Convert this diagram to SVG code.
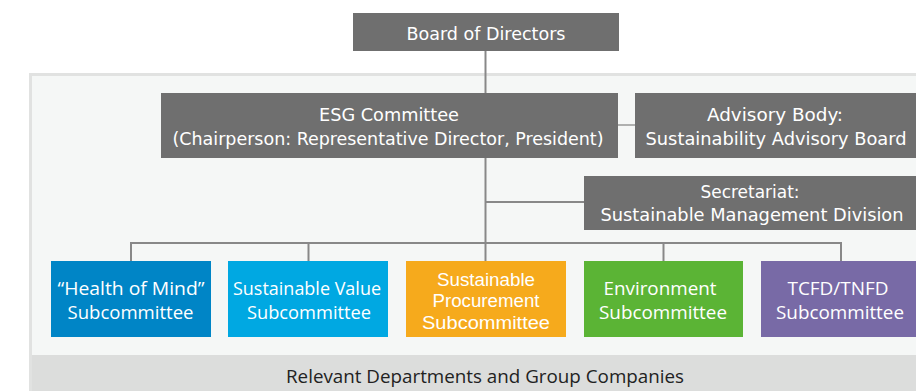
<svg xmlns="http://www.w3.org/2000/svg" width="916" height="391" viewBox="0 0 916 391">
<defs>
<style>
.gbox{fill:#6f6f6f}
.gt{font-family:"Liberation Sans Narrow","DejaVu Sans Condensed","Liberation Sans",sans-serif;font-size:18px;fill:#ffffff;text-anchor:middle}
.st{font-family:"Open Sans","Liberation Sans",sans-serif;font-size:18px;fill:#ffffff;text-anchor:middle}
.pt{font-family:"Liberation Sans",sans-serif;font-size:17.5px;fill:#ffffff;text-anchor:middle}
.ln{stroke:#888888;stroke-width:2;fill:none}
.thin{stroke:#808080;stroke-width:1.2;fill:none}
</style>
</defs>
<rect width="916" height="391" fill="#ffffff"/>
<g id="panel">
<rect x="30.5" y="74.5" width="890" height="320" fill="#f5f7f6" stroke="#e1e2e1" stroke-width="3"/>
<rect x="32" y="355" width="884" height="36" fill="#dcdddc"/>
<text x="485" y="383" font-family="Open Sans, Liberation Sans, sans-serif" font-size="17.5" fill="#222222" text-anchor="middle" textLength="398" lengthAdjust="spacingAndGlyphs">Relevant Departments and Group Companies</text>
</g>
<g id="connectors">
<line class="ln" x1="485.5" y1="51" x2="485.5" y2="243"/>
<line class="thin" x1="618" y1="125" x2="635" y2="125"/>
<line class="ln" x1="485.5" y1="202" x2="584" y2="202"/>
<polyline class="ln" points="131,262 131,243 841,243 841,262"/>
<line class="ln" x1="308.5" y1="243" x2="308.5" y2="262"/>
<line class="ln" x1="485.5" y1="243" x2="485.5" y2="262"/>
<line class="ln" x1="663.5" y1="243" x2="663.5" y2="262"/>
</g>
<g id="board">
<rect class="gbox" x="353" y="13" width="266" height="38"/>
<text class="gt" x="486" y="40" textLength="159" lengthAdjust="spacingAndGlyphs">Board of Directors</text>
</g>
<g id="esg">
<rect class="gbox" x="161" y="93" width="457" height="65"/>
<text class="gt" x="389" y="121" textLength="140" lengthAdjust="spacingAndGlyphs">ESG Committee</text>
<text class="gt" x="388" y="145" textLength="431" lengthAdjust="spacingAndGlyphs">(Chairperson: Representative Director, President)</text>
</g>
<g id="advisory">
<rect class="gbox" x="635" y="93" width="281" height="65"/>
<text class="gt" x="775" y="121" textLength="136" lengthAdjust="spacingAndGlyphs">Advisory Body:</text>
<text class="gt" x="776" y="145" textLength="261" lengthAdjust="spacingAndGlyphs">Sustainability Advisory Board</text>
</g>
<g id="secretariat">
<rect class="gbox" x="584" y="176" width="332" height="54"/>
<text class="gt" x="750" y="198" textLength="99" lengthAdjust="spacingAndGlyphs">Secretariat:</text>
<text class="gt" x="752" y="221" textLength="303" lengthAdjust="spacingAndGlyphs">Sustainable Management Division</text>
</g>
<g id="health">
<rect x="51" y="261" width="160" height="76" fill="#0085c6"/>
<text class="st" x="131" y="295" textLength="147" lengthAdjust="spacingAndGlyphs">“Health of Mind”</text>
<text class="st" x="130.5" y="319" textLength="126" lengthAdjust="spacingAndGlyphs">Subcommittee</text>
</g>
<g id="value">
<rect x="228" y="261" width="160" height="76" fill="#00a8e2"/>
<text class="st" x="307" y="295" textLength="148" lengthAdjust="spacingAndGlyphs">Sustainable Value</text>
<text class="st" x="309" y="319" textLength="124" lengthAdjust="spacingAndGlyphs">Subcommittee</text>
</g>
<g id="procurement">
<rect x="406" y="261" width="160" height="76" fill="#f6aa1c"/>
<text class="pt" x="486" y="286" textLength="98" lengthAdjust="spacingAndGlyphs">Sustainable</text>
<text class="pt" x="486" y="307" textLength="107" lengthAdjust="spacingAndGlyphs">Procurement</text>
<text class="pt" x="486" y="328.5" textLength="128" lengthAdjust="spacingAndGlyphs">Subcommittee</text>
</g>
<g id="environment">
<rect x="584" y="261" width="159" height="76" fill="#5bb435"/>
<text class="st" x="660" y="295" textLength="113" lengthAdjust="spacingAndGlyphs">Environment</text>
<text class="st" x="663" y="319" textLength="128" lengthAdjust="spacingAndGlyphs">Subcommittee</text>
</g>
<g id="tcfd">
<rect x="761" y="261" width="155" height="76" fill="#786aa6"/>
<text class="st" x="838" y="295" textLength="101" lengthAdjust="spacingAndGlyphs">TCFD/TNFD</text>
<text class="st" x="840" y="319" textLength="128" lengthAdjust="spacingAndGlyphs">Subcommittee</text>
</g>
</svg>
